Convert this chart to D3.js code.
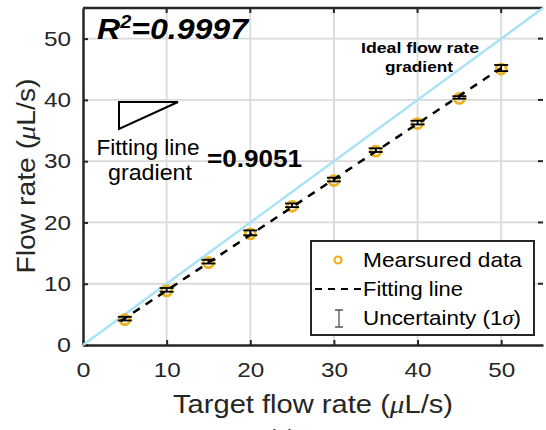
<!DOCTYPE html>
<html>
<head>
<meta charset="utf-8">
<script src="https://cdn.jsdelivr.net/npm/d3@7"></script>
<style>
  body { margin: 0; background: #fff; }
  svg { font-family: "Liberation Sans", Arial, sans-serif; }
</style>
</head>
<body>
<svg id="chart" width="546" height="430"></svg>
<script>
const targetRates = [5, 10, 15, 20, 25, 30, 35, 40, 45, 50];
const measuredRates = [4.3, 9.0, 13.6, 18.3, 22.8, 27.0, 31.8, 36.3, 40.4, 45.2];
const sigma = [0.3, 0.3, 0.3, 0.4, 0.3, 0.3, 0.3, 0.3, 0.2, 0.5];

const fitX = [4.5, 50];
const fitY = [3.9, 45.2];
const idealX = [0, 55];
const idealY = [0, 55];

const ticks = [0, 10, 20, 30, 40, 50];
const legendLabels = ["Mearsured data", "Fitting line", "Uncertainty (1\u03c3)"];

const orange = "#EDB120";
const ink = "#262626";

const margin = { left: 83, top: 8, right: 543, bottom: 345 };

const svg = d3.select("#chart");

const x = d3.scaleLinear().domain([0, 55]).range([margin.left, margin.right]);
const y = d3.scaleLinear().domain([0, 55]).range([margin.bottom, margin.top]);

// grid
svg.append("g")
  .selectAll("line")
  .data(ticks.slice(1))
  .join("line")
  .attr("x1", d => x(d)).attr("x2", d => x(d))
  .attr("y1", margin.top).attr("y2", margin.bottom)
  .attr("stroke", "#dadada").attr("stroke-width", 1.8);

svg.append("g")
  .selectAll("line")
  .data(ticks.slice(1))
  .join("line")
  .attr("y1", d => y(d)).attr("y2", d => y(d))
  .attr("x1", margin.left).attr("x2", margin.right)
  .attr("stroke", "#dadada").attr("stroke-width", 1.8);

// axes
const xAxis = svg.append("g")
  .attr("transform", "translate(0," + margin.bottom + ")")
  .call(d3.axisBottom(x).tickValues(ticks).tickSizeInner(-5).tickSizeOuter(0).tickPadding(17));
const yAxis = svg.append("g")
  .attr("transform", "translate(" + margin.left + ",0)")
  .call(d3.axisLeft(y).tickValues(ticks).tickSizeInner(-5).tickSizeOuter(0).tickPadding(12));

[xAxis, yAxis].forEach(ax => {
  ax.select(".domain").attr("stroke", ink).attr("stroke-width", 2.5);
  ax.selectAll(".tick line").attr("stroke", ink).attr("stroke-width", 2);
  ax.selectAll(".tick text")
    .attr("fill", ink)
    .attr("textLength", 27).attr("lengthAdjust", "spacingAndGlyphs")
    .style("font-size", "21px")
    .style("font-family", "Liberation Sans, Arial, sans-serif");
});
xAxis.selectAll(".tick text").filter(d => d === 0).attr("textLength", 14);
yAxis.selectAll(".tick text").filter(d => d === 0).attr("textLength", 14);
xAxis.selectAll(".tick text").attr("dy", "0.71em");

// top border + top/right ticks
svg.append("line")
  .attr("x1", margin.left).attr("x2", margin.right)
  .attr("y1", margin.top).attr("y2", margin.top)
  .attr("stroke", ink).attr("stroke-width", 2.5);
svg.append("g")
  .selectAll("line")
  .data(ticks.slice(1))
  .join("line")
  .attr("x1", d => x(d)).attr("x2", d => x(d))
  .attr("y1", margin.top).attr("y2", margin.top + 5)
  .attr("stroke", ink).attr("stroke-width", 2);
svg.append("g")
  .selectAll("line")
  .data(ticks.slice(1))
  .join("line")
  .attr("y1", d => y(d)).attr("y2", d => y(d))
  .attr("x1", margin.right).attr("x2", margin.right - 5)
  .attr("stroke", ink).attr("stroke-width", 2);

// ideal line
const line = d3.line().x(d => x(d[0])).y(d => y(d[1]));
svg.append("path")
  .attr("d", line(d3.zip(idealX, idealY)))
  .attr("stroke", "#a9e2f5").attr("stroke-width", 2.5).attr("fill", "none");

// points
svg.append("g")
  .selectAll("circle")
  .data(targetRates)
  .join("circle")
  .attr("cx", d => x(d))
  .attr("cy", (d, i) => y(measuredRates[i]) + 1)
  .attr("r", 5)
  .attr("fill", "none")
  .attr("stroke", orange).attr("stroke-width", 2.8);

// fit line
svg.append("path")
  .attr("d", line(d3.zip(fitX, fitY)))
  .attr("stroke", "#000").attr("stroke-width", 2.5)
  .attr("stroke-dasharray", "8,7").attr("fill", "none");

// error bars
const eb = svg.append("g").attr("stroke", "#000").attr("stroke-width", 1.8);
targetRates.forEach((t, i) => {
  const cx = x(t);
  const lo = y(measuredRates[i] - sigma[i]);
  const hi = y(measuredRates[i] + sigma[i]);
  eb.append("line").attr("x1", cx).attr("x2", cx).attr("y1", lo).attr("y2", hi);
  eb.append("line").attr("x1", cx - 7).attr("x2", cx + 7).attr("y1", lo).attr("y2", lo);
  eb.append("line").attr("x1", cx - 7).attr("x2", cx + 7).attr("y1", hi).attr("y2", hi);
});

// axis labels
const xl = svg.append("text")
  .attr("x", 313).attr("y", 413)
  .attr("text-anchor", "middle").attr("fill", ink)
  .attr("textLength", 280).attr("lengthAdjust", "spacingAndGlyphs")
  .style("font-size", "26px");
xl.append("tspan").text("Target flow rate (");
xl.append("tspan").text("\u03bc").style("font-style", "italic").style("font-family", "Liberation Serif, serif");
xl.append("tspan").text("L/s)");

const yl = svg.append("text")
  .attr("transform", "translate(35,176) rotate(-90)")
  .attr("text-anchor", "middle").attr("fill", ink)
  .attr("textLength", 195).attr("lengthAdjust", "spacingAndGlyphs")
  .style("font-size", "26px");
yl.append("tspan").text("Flow rate (");
yl.append("tspan").text("\u03bc").style("font-style", "italic").style("font-family", "Liberation Serif, serif");
yl.append("tspan").text("L/s)");

svg.append("text").attr("x", 282).attr("y", 445)
  .attr("text-anchor", "middle").attr("fill", ink)
  .style("font-size", "22px").text("(a)");

// annotations
const r2 = svg.append("text")
  .attr("x", 97).attr("y", 39)
  .attr("textLength", 151).attr("lengthAdjust", "spacingAndGlyphs")
  .style("font-size", "29px").style("font-weight", "bold").style("font-style", "italic")
  .attr("fill", "#000");
r2.append("tspan").text("R");
r2.append("tspan").text("2").attr("dy", -11).style("font-size", "18px");
r2.append("tspan").text("=0.9997").attr("dy", 11);

svg.append("path")
  .attr("d", "M119,102 L178,102 L119,129 Z")
  .attr("fill", "none").attr("stroke", "#000").attr("stroke-width", 2);

svg.append("text").attr("x", 148).attr("y", 155)
  .attr("text-anchor", "middle").attr("fill", "#000")
  .attr("textLength", 103).attr("lengthAdjust", "spacingAndGlyphs")
  .style("font-size", "22px").text("Fitting line");
svg.append("text").attr("x", 150).attr("y", 180)
  .attr("text-anchor", "middle").attr("fill", "#000")
  .attr("textLength", 84).attr("lengthAdjust", "spacingAndGlyphs")
  .style("font-size", "22px").text("gradient");
svg.append("text").attr("x", 207).attr("y", 167)
  .attr("fill", "#000").style("font-weight", "bold")
  .attr("textLength", 95).attr("lengthAdjust", "spacingAndGlyphs")
  .style("font-size", "24px").text("=0.9051");

svg.append("text").attr("x", 420).attr("y", 53)
  .attr("text-anchor", "middle").attr("fill", "#000").style("font-weight", "bold")
  .attr("textLength", 118).attr("lengthAdjust", "spacingAndGlyphs")
  .style("font-size", "15px").text("Ideal flow rate");
svg.append("text").attr("x", 419).attr("y", 72)
  .attr("text-anchor", "middle").attr("fill", "#000").style("font-weight", "bold")
  .attr("textLength", 68).attr("lengthAdjust", "spacingAndGlyphs")
  .style("font-size", "15px").text("gradient");

// legend
const lg = svg.append("g");
lg.append("rect")
  .attr("x", 311).attr("y", 241).attr("width", 223).attr("height", 94)
  .attr("fill", "#fff").attr("stroke", ink).attr("stroke-width", 2);

const rowY = [260, 289, 318];
const rowLen = [159, 100, 158];
lg.append("circle").attr("cx", 338).attr("cy", rowY[0])
  .attr("r", 3.5).attr("fill", "none").attr("stroke", orange).attr("stroke-width", 2.2);
lg.append("line").attr("x1", 315).attr("x2", 362).attr("y1", rowY[1]).attr("y2", rowY[1])
  .attr("stroke", "#000").attr("stroke-width", 2).attr("stroke-dasharray", "7,6");
lg.append("path")
  .attr("d", `M335,${rowY[2] - 8} H343 M339,${rowY[2] - 8} V${rowY[2] + 9} M335,${rowY[2] + 9} H343`)
  .attr("stroke", "#555").attr("stroke-width", 1.3).attr("fill", "none");

legendLabels.forEach((lab, i) => {
  const t = lg.append("text").attr("x", 363).attr("y", rowY[i] + 7)
    .attr("fill", "#000")
    .attr("textLength", rowLen[i]).attr("lengthAdjust", "spacingAndGlyphs")
    .style("font-size", "21px");
  if (i === 2) {
    t.append("tspan").text("Uncertainty (1");
    t.append("tspan").text("\u03c3").style("font-style", "italic").style("font-family", "Liberation Serif, serif");
    t.append("tspan").text(")");
  } else {
    t.text(lab);
  }
});
</script>
</body>
</html>
